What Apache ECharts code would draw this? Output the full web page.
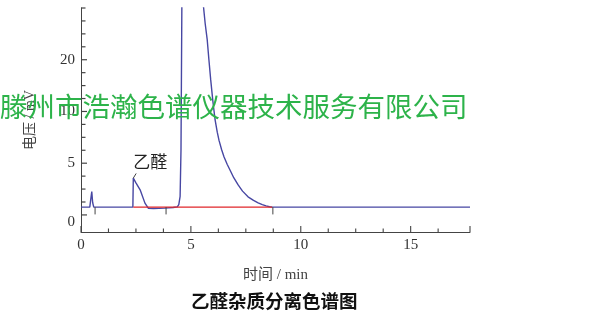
<!DOCTYPE html>
<html>
<head>
<meta charset="utf-8">
<script src="https://cdn.jsdelivr.net/npm/echarts@6/dist/echarts.min.js"></script>
<style>
html,body{margin:0;padding:0;background:#fff;}
#chart{width:600px;height:316px;}
</style>
</head>
<body>
<div id="chart"></div>
<script>
// ---- data (y in displayed axis units) ----
const timeMin = [0, 0.40, 0.45, 0.49, 0.53, 0.58, 2.36, 2.38, 2.50, 2.69, 2.91, 3.06, 3.30, 3.80, 4.20, 4.38, 4.45, 4.51, 4.55, 4.59, 4.63,
  5.50, 5.57, 5.65, 5.74, 5.82, 5.90, 6.00, 6.10, 6.20, 6.28, 6.40, 6.51, 6.65, 6.79, 6.95, 7.15, 7.35, 7.60, 7.85, 8.06, 8.25, 8.42, 8.58, 8.70, 17.7];
const signal  = [0.75, 0.75, 1.6, 2.26, 1.2, 0.75, 0.75, 3.56, 3.1, 2.43, 1.14, 0.65, 0.62, 0.66, 0.72, 0.78, 1.0, 1.8, 6.3, 20.5, 40,
  40, 20.2, 18.5, 17.0, 15.0, 13.1, 11.0, 9.2, 8.0, 7.2, 6.3, 5.6, 4.9, 4.3, 3.6, 2.9, 2.3, 1.75, 1.4, 1.17, 1.0, 0.87, 0.79, 0.75, 0.75];
const baselineTimes = [2.38, 8.70];
const baselineLevel = 0.75;
const markerTimes = [0.64, 3.87, 8.73];
const markerBottom = 0.05;
const peakLabel = ['乙醛'];
const peakPoint = [2.38, 3.56];
const xTickValues = [0, 5, 10, 15];
const xTickLabels = ['0', '5', '10', '15'];
const yTickValues = [0, 5, 10, 15];
const yTickLabels = ['0', '5', '10', '20'];
const xMajorTicks = [0, 5, 10, 15, 17.7];
const xMinorTicks = [1.25, 2.5, 3.75, 6.25, 7.5, 8.75, 11.25, 12.5, 13.75, 16.25];
const yMajorTicks = [0, 5, 10, 15];
const yMinorTicks = [1.25, 2.5, 3.75, 6.25, 7.5, 8.75, 11.25, 12.5, 13.75, 16.25, 17.5, 18.75, 20];
const xRange = [0, 17.7];
const yRange = [-1.65, 20];
const majorStep = 5;
const xName = '时间 / min';
const yName = '电压 / mV';
const titleText = '乙醛杂质分离色谱图';
const watermark = '滕州市浩瀚色谱仪器技术服务有限公司';

// ---- layout ----
const G = {left: 81, right: 130, top: 8, bottom: 84};
const pxPerX = (600 - G.left - G.right) / (xRange[1] - xRange[0]);
const pxPerY = (316 - G.top - G.bottom) / (yRange[1] - yRange[0]);
const TICK = {xMajor: 6, xMinor: 3.5, yMajor: 6, yMinor: 4.5};

// ---- build ----
const lineData = timeMin.map((t, i) => [t, signal[i]]);
const baseData = baselineTimes.map(t => [t, baselineLevel]);
const markerData = [];
markerTimes.forEach(t => { markerData.push([t, baselineLevel], [t, markerBottom], [t, '-']); });
const xTickData = [];
xMajorTicks.forEach(v => xTickData.push([v, yRange[0]], [v, yRange[0] + TICK.xMajor / pxPerY], [v, '-']));
xMinorTicks.forEach(v => xTickData.push([v, yRange[0]], [v, yRange[0] + TICK.xMinor / pxPerY], [v, '-']));
const yTickSeries = [];
yMajorTicks.forEach(v => yTickSeries.push([[xRange[0], v], [xRange[0] + TICK.yMajor / pxPerX, v]]));
yMinorTicks.forEach(v => yTickSeries.push([[xRange[0], v], [xRange[0] + TICK.yMinor / pxPerX, v]]));

const axisColor = '#444';
const serif = "'Liberation Serif','Noto Sans CJK SC',serif";

const series = [{
  type: 'line', data: lineData,
  showSymbol: false, symbol: 'none', clip: true,
  lineStyle: {color: '#4747a3', width: 1.4},
  markPoint: {
    symbol: 'circle', symbolSize: 1, itemStyle: {color: 'transparent'},
    label: {show: true, formatter: peakLabel[0], position: 'inside', offset: [17, -17],
      fontFamily: "'Noto Sans CJK SC'", fontSize: 17, color: '#222'},
    data: [{coord: peakPoint}]
  },
  markLine: {
    silent: true, symbol: 'none', label: {show: false},
    lineStyle: {color: '#444', width: 1, type: 'solid'},
    data: [[{coord: peakPoint}, {coord: [peakPoint[0] + 0.13, peakPoint[1] + 0.45]}]]
  }
}, {
  type: 'line', data: baseData, showSymbol: false, symbol: 'none',
  lineStyle: {color: '#e0262a', width: 1.1}, z: 3
}, {
  type: 'line', data: markerData, showSymbol: false, symbol: 'none', connectNulls: false,
  lineStyle: {color: '#444', width: 1}
}, {
  type: 'line', data: xTickData, showSymbol: false, symbol: 'none', connectNulls: false, clip: false,
  silent: true, lineStyle: {color: axisColor, width: 1.1}, z: 4
}];
yTickSeries.forEach(seg => series.push({
  type: 'line', data: seg, showSymbol: false, symbol: 'none', clip: false,
  silent: true, lineStyle: {color: axisColor, width: 1.2}, z: 4
}));

const chart = echarts.init(document.getElementById('chart'), null, {renderer: 'canvas'});
chart.setOption({
  animation: false,
  backgroundColor: '#fff',
  grid: G,
  title: {
    text: titleText, left: 186, top: 287,
    textStyle: {fontFamily: "'Noto Sans CJK SC'", fontWeight: 'bold', fontSize: 18.5, color: '#111'}
  },
  xAxis: {
    type: 'value', min: xRange[0], max: xRange[1], interval: majorStep,
    name: xName, nameLocation: 'middle', nameGap: 36,
    nameTextStyle: {fontFamily: serif, fontSize: 15, color: '#444'},
    axisLine: {show: true, onZero: false, lineStyle: {color: axisColor, width: 1}},
    axisTick: {show: false},
    axisLabel: {formatter: v => { const i = xTickValues.indexOf(v); return i < 0 ? '' : xTickLabels[i]; },
      fontFamily: serif, fontSize: 15, color: '#333', margin: 6},
    splitLine: {show: false}
  },
  yAxis: {
    type: 'value', min: yRange[0], max: yRange[1], minInterval: majorStep, maxInterval: majorStep,
    name: yName, nameLocation: 'middle', nameGap: 44, nameRotate: 90,
    nameTextStyle: {fontFamily: serif, fontSize: 14, color: '#444'},
    axisLine: {show: true, onZero: false, lineStyle: {color: axisColor, width: 1}},
    axisTick: {show: false},
    axisLabel: {
      showMinLabel: false,
      formatter: v => { const i = yTickValues.indexOf(v); if (i < 0) return ''; return v === 0 ? '{z|' + yTickLabels[i] + '}' : yTickLabels[i]; },
      fontFamily: serif, fontSize: 15, color: '#333', margin: 6,
      rich: {z: {fontFamily: serif, fontSize: 15, color: '#333', padding: [15, 0, 0, 0]}}
    },
    splitLine: {show: false}
  },
  graphic: [{
    type: 'text', left: 0, top: 93, z: 100,
    style: {text: watermark, fontFamily: "'Noto Sans CJK SC'", fontSize: 27.5, fill: '#2db34a'}
  }],
  series: series
});
</script>
</body>
</html>
